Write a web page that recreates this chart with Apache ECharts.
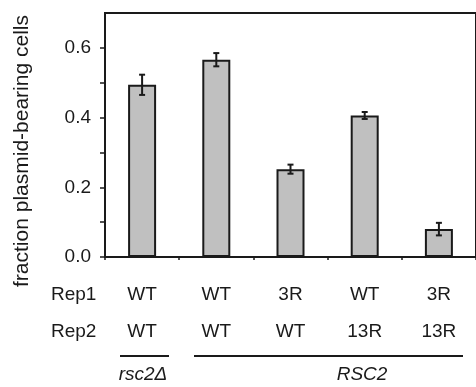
<!DOCTYPE html>
<html>
<head>
<meta charset="utf-8">
<script src="https://cdn.jsdelivr.net/npm/echarts@6/dist/echarts.min.js"></script>
<style>
html, body { margin: 0; padding: 0; background: #fff; }
#chart { width: 476px; height: 387px; }
</style>
</head>
<body>
<div id="chart"></div>
<script>
var rep1 = ['WT', 'WT', '3R', 'WT', '3R'];
var rep2 = ['WT', 'WT', 'WT', '13R', '13R'];
var fraction = [0.494, 0.566, 0.252, 0.406, 0.080];
var errSize = [0.029, 0.019, 0.013, 0.010, 0.018];
var tickValues = [0, 0.1, 0.2, 0.3, 0.4, 0.5, 0.6];
var labelValues = [0, 0.2, 0.4, 0.6];

var chart = echarts.init(document.getElementById('chart'));
var ink = '#1a1a1a';
var font = 'Liberation Sans, Arial, sans-serif';

var categories = rep1.map(function (r, i) { return r + '\n' + rep2[i]; });
var errData = fraction.map(function (v, i) { return [i, v - errSize[i], v + errSize[i]]; });

function renderError(params, api) {
	var lo = api.coord([api.value(0), api.value(1)]);
	var hi = api.coord([api.value(0), api.value(2)]);
	var half = 3;
	var style = { stroke: ink, lineWidth: 2 };
	return {
		type: 'group',
		children: [
			{ type: 'line', shape: { x1: hi[0], y1: hi[1], x2: lo[0], y2: lo[1] }, style: style },
			{ type: 'line', shape: { x1: hi[0] - half, y1: hi[1], x2: hi[0] + half, y2: hi[1] }, style: style },
			{ type: 'line', shape: { x1: lo[0] - half, y1: lo[1], x2: lo[0] + half, y2: lo[1] }, style: style }
		]
	};
}

var option = {
	backgroundColor: '#fff',
	animation: false,
	grid: {
		left: 105,
		top: 13,
		right: -2,
		bottom: 130,
		show: true,
		borderColor: ink,
		borderWidth: 2
	},
	xAxis: {
		type: 'category',
		data: categories,
		axisLine: { lineStyle: { color: ink, width: 2 } },
		axisTick: { show: true, length: 3, lineStyle: { color: ink, width: 1.5 } },
		axisLabel: {
			color: ink,
			fontFamily: font,
			fontSize: 19,
			lineHeight: 37,
			margin: 19
		}
	},
	yAxis: {
		type: 'value',
		min: 0,
		max: 0.7,
		interval: 0.1,
		splitLine: { show: false },
		axisLine: { show: true, lineStyle: { color: ink, width: 2 } },
		axisTick: { show: true, length: 5, customValues: tickValues, lineStyle: { color: ink, width: 1.5 } },
		axisLabel: {
			color: ink,
			fontFamily: font,
			fontSize: 19,
			margin: 14,
			customValues: labelValues,
			formatter: function (v) { return v.toFixed(1); }
		}
	},
	graphic: [
		{
			type: 'text', x: 22, y: 151, rotation: Math.PI / 2,
			style: { text: 'fraction plasmid-bearing cells', fill: ink, font: '21px ' + font, align: 'center', verticalAlign: 'middle' }
		},
		{ type: 'text', x: 51, y: 295, style: { text: 'Rep1', fill: ink, font: '19px ' + font, align: 'left', verticalAlign: 'middle' } },
		{ type: 'text', x: 51, y: 332, style: { text: 'Rep2', fill: ink, font: '19px ' + font, align: 'left', verticalAlign: 'middle' } },
		{ type: 'line', shape: { x1: 120, y1: 356, x2: 169, y2: 356 }, style: { stroke: ink, lineWidth: 2 } },
		{ type: 'line', shape: { x1: 194, y1: 356, x2: 463, y2: 356 }, style: { stroke: ink, lineWidth: 2 } },
		{ type: 'text', x: 143, y: 375, style: { text: 'rsc2Δ', fill: ink, font: 'italic 19px ' + font, align: 'center', verticalAlign: 'middle' } },
		{ type: 'text', x: 362, y: 375, style: { text: 'RSC2', fill: ink, font: 'italic 19px ' + font, align: 'center', verticalAlign: 'middle' } }
	],
	series: [
		{
			type: 'bar',
			barWidth: 28,
			data: fraction,
			itemStyle: { color: '#c0c0c0', borderColor: ink, borderWidth: 2 }
		},
		{
			type: 'custom',
			renderItem: renderError,
			data: errData,
			z: 10
		}
	]
};
chart.setOption(option);
</script>
</body>
</html>
